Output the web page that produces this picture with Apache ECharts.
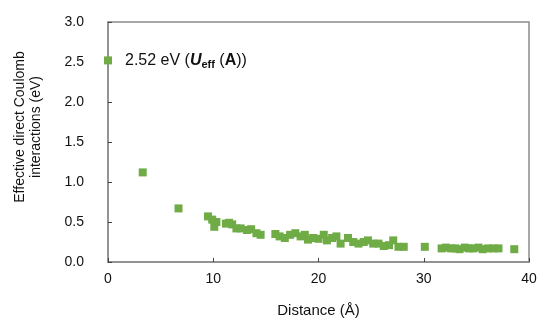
<!DOCTYPE html>
<html>
<head>
<meta charset="utf-8">
<style>
  html, body { margin: 0; padding: 0; background: #fff; }
  #chart { width: 539px; height: 320px; }
</style>
<script src="https://cdn.jsdelivr.net/npm/echarts@6/dist/echarts.min.js"></script>
</head>
<body>
<div id="chart"></div>
<script>
// Distance between sites (Å)
const distance = [
  0.0, 3.3, 6.7,
  9.5, 9.9, 10.1, 10.3, 11.2, 11.5, 11.8, 12.2, 12.6, 13.2, 13.6, 14.1, 14.5,
  15.9, 16.3, 16.8, 17.3, 17.8, 18.3, 18.7, 19.0, 19.5, 20.0, 20.5, 20.8, 21.3,
  21.7, 22.1, 22.8, 23.3, 23.8, 24.3, 24.7, 25.2, 25.7, 26.2, 26.7, 27.1, 27.6,
  28.1, 30.1, 31.7, 32.1, 32.6, 33.0, 33.4, 33.9, 34.3, 34.7, 35.2, 35.6, 36.1,
  36.6, 37.1, 38.6
];
// Effective direct Coulomb interaction (eV)
const coulomb = [
  2.52, 1.12, 0.67,
  0.57, 0.53, 0.44, 0.50, 0.48, 0.49, 0.47, 0.42, 0.42, 0.40, 0.41, 0.36, 0.34,
  0.35, 0.32, 0.30, 0.34, 0.36, 0.32, 0.34, 0.28, 0.30, 0.29, 0.34, 0.27, 0.30,
  0.32, 0.23, 0.30, 0.25, 0.23, 0.25, 0.27, 0.23, 0.23, 0.20, 0.21, 0.27, 0.19,
  0.19, 0.19, 0.17, 0.18, 0.17, 0.17, 0.16, 0.18, 0.17, 0.17, 0.18, 0.16, 0.17,
  0.17, 0.17, 0.16
];
const xTicks = [0, 10, 20, 30, 40];
const yTicks = [0, 0.5, 1.0, 1.5, 2.0, 2.5, 3.0];
const yTitle = ['Effective direct Coulomb', 'interactions (eV)'];

const font = '"Liberation Sans", Arial, Helvetica, sans-serif';
const axisGray = '#8c8c8c';
const green = '#6fac46';

const points = distance.map((d, i) => [d, coulomb[i]]);
// the on-site value gets its own annotation
const pointData = points.map((p, i) => i === 0 ? {
  value: p,
  label: {
    show: true,
    position: 'right',
    distance: 13,
    formatter: '{n|' + coulomb[0].toFixed(2) + ' eV (}{u|U}{s|eff}{n| (}{b|A}{n|))}',
    rich: {
      n: { fontSize: 16, fontFamily: font, color: '#111' },
      u: { fontSize: 16, fontFamily: font, color: '#111', fontWeight: 'bold', fontStyle: 'italic' },
      s: { fontSize: 11, fontFamily: font, color: '#111', fontWeight: 'bold', padding: [9, 0, 0, 0] },
      b: { fontSize: 16, fontFamily: font, color: '#111', fontWeight: 'bold' }
    }
  }
} : p);

const chart = echarts.init(document.getElementById('chart'), null, { renderer: 'canvas' });
chart.setOption({
  animation: false,
  grid: {
    left: 108, right: 10, top: 22, bottom: 58,
    outerBoundsMode: 'none', containLabel: false,
    show: true, borderColor: axisGray, borderWidth: 1.5, backgroundColor: 'transparent'
  },
  // vertical axis title, two stacked lines
  graphic: yTitle.map((line, i) => ({
    type: 'text',
    x: 20 + i * 16,
    y: 127,
    rotation: Math.PI / 2,
    style: {
      text: line,
      font: '14px ' + font,
      fill: '#111',
      align: 'center',
      verticalAlign: 'middle'
    }
  })),
  xAxis: {
    type: 'value',
    min: xTicks[0], max: xTicks[xTicks.length - 1], interval: 10,
    name: 'Distance (Å)',
    nameLocation: 'middle', nameGap: 41,
    nameTextStyle: { fontSize: 15, fontFamily: font, color: '#111' },
    axisLine: { show: true, lineStyle: { color: axisGray, width: 1.5 } },
    axisTick: { show: true, inside: true, length: 4, lineStyle: { color: '#444' } },
    axisLabel: { fontSize: 14, fontFamily: font, color: '#111', margin: 10 },
    splitLine: { show: false }
  },
  yAxis: {
    type: 'value',
    min: yTicks[0], max: yTicks[yTicks.length - 1], interval: 0.5,
    axisLine: { show: true, lineStyle: { color: axisGray, width: 1.5 } },
    axisTick: { show: true, inside: true, length: 4, lineStyle: { color: '#444' } },
    axisLabel: {
      fontSize: 14, fontFamily: font, color: '#111', margin: 24,
      formatter: v => v.toFixed(1)
    },
    splitLine: { show: false }
  },
  series: [{
    type: 'scatter',
    symbol: 'rect',
    symbolSize: 8,
    itemStyle: { color: green, opacity: 1 },
    data: pointData
  }]
});
</script>
</body>
</html>
